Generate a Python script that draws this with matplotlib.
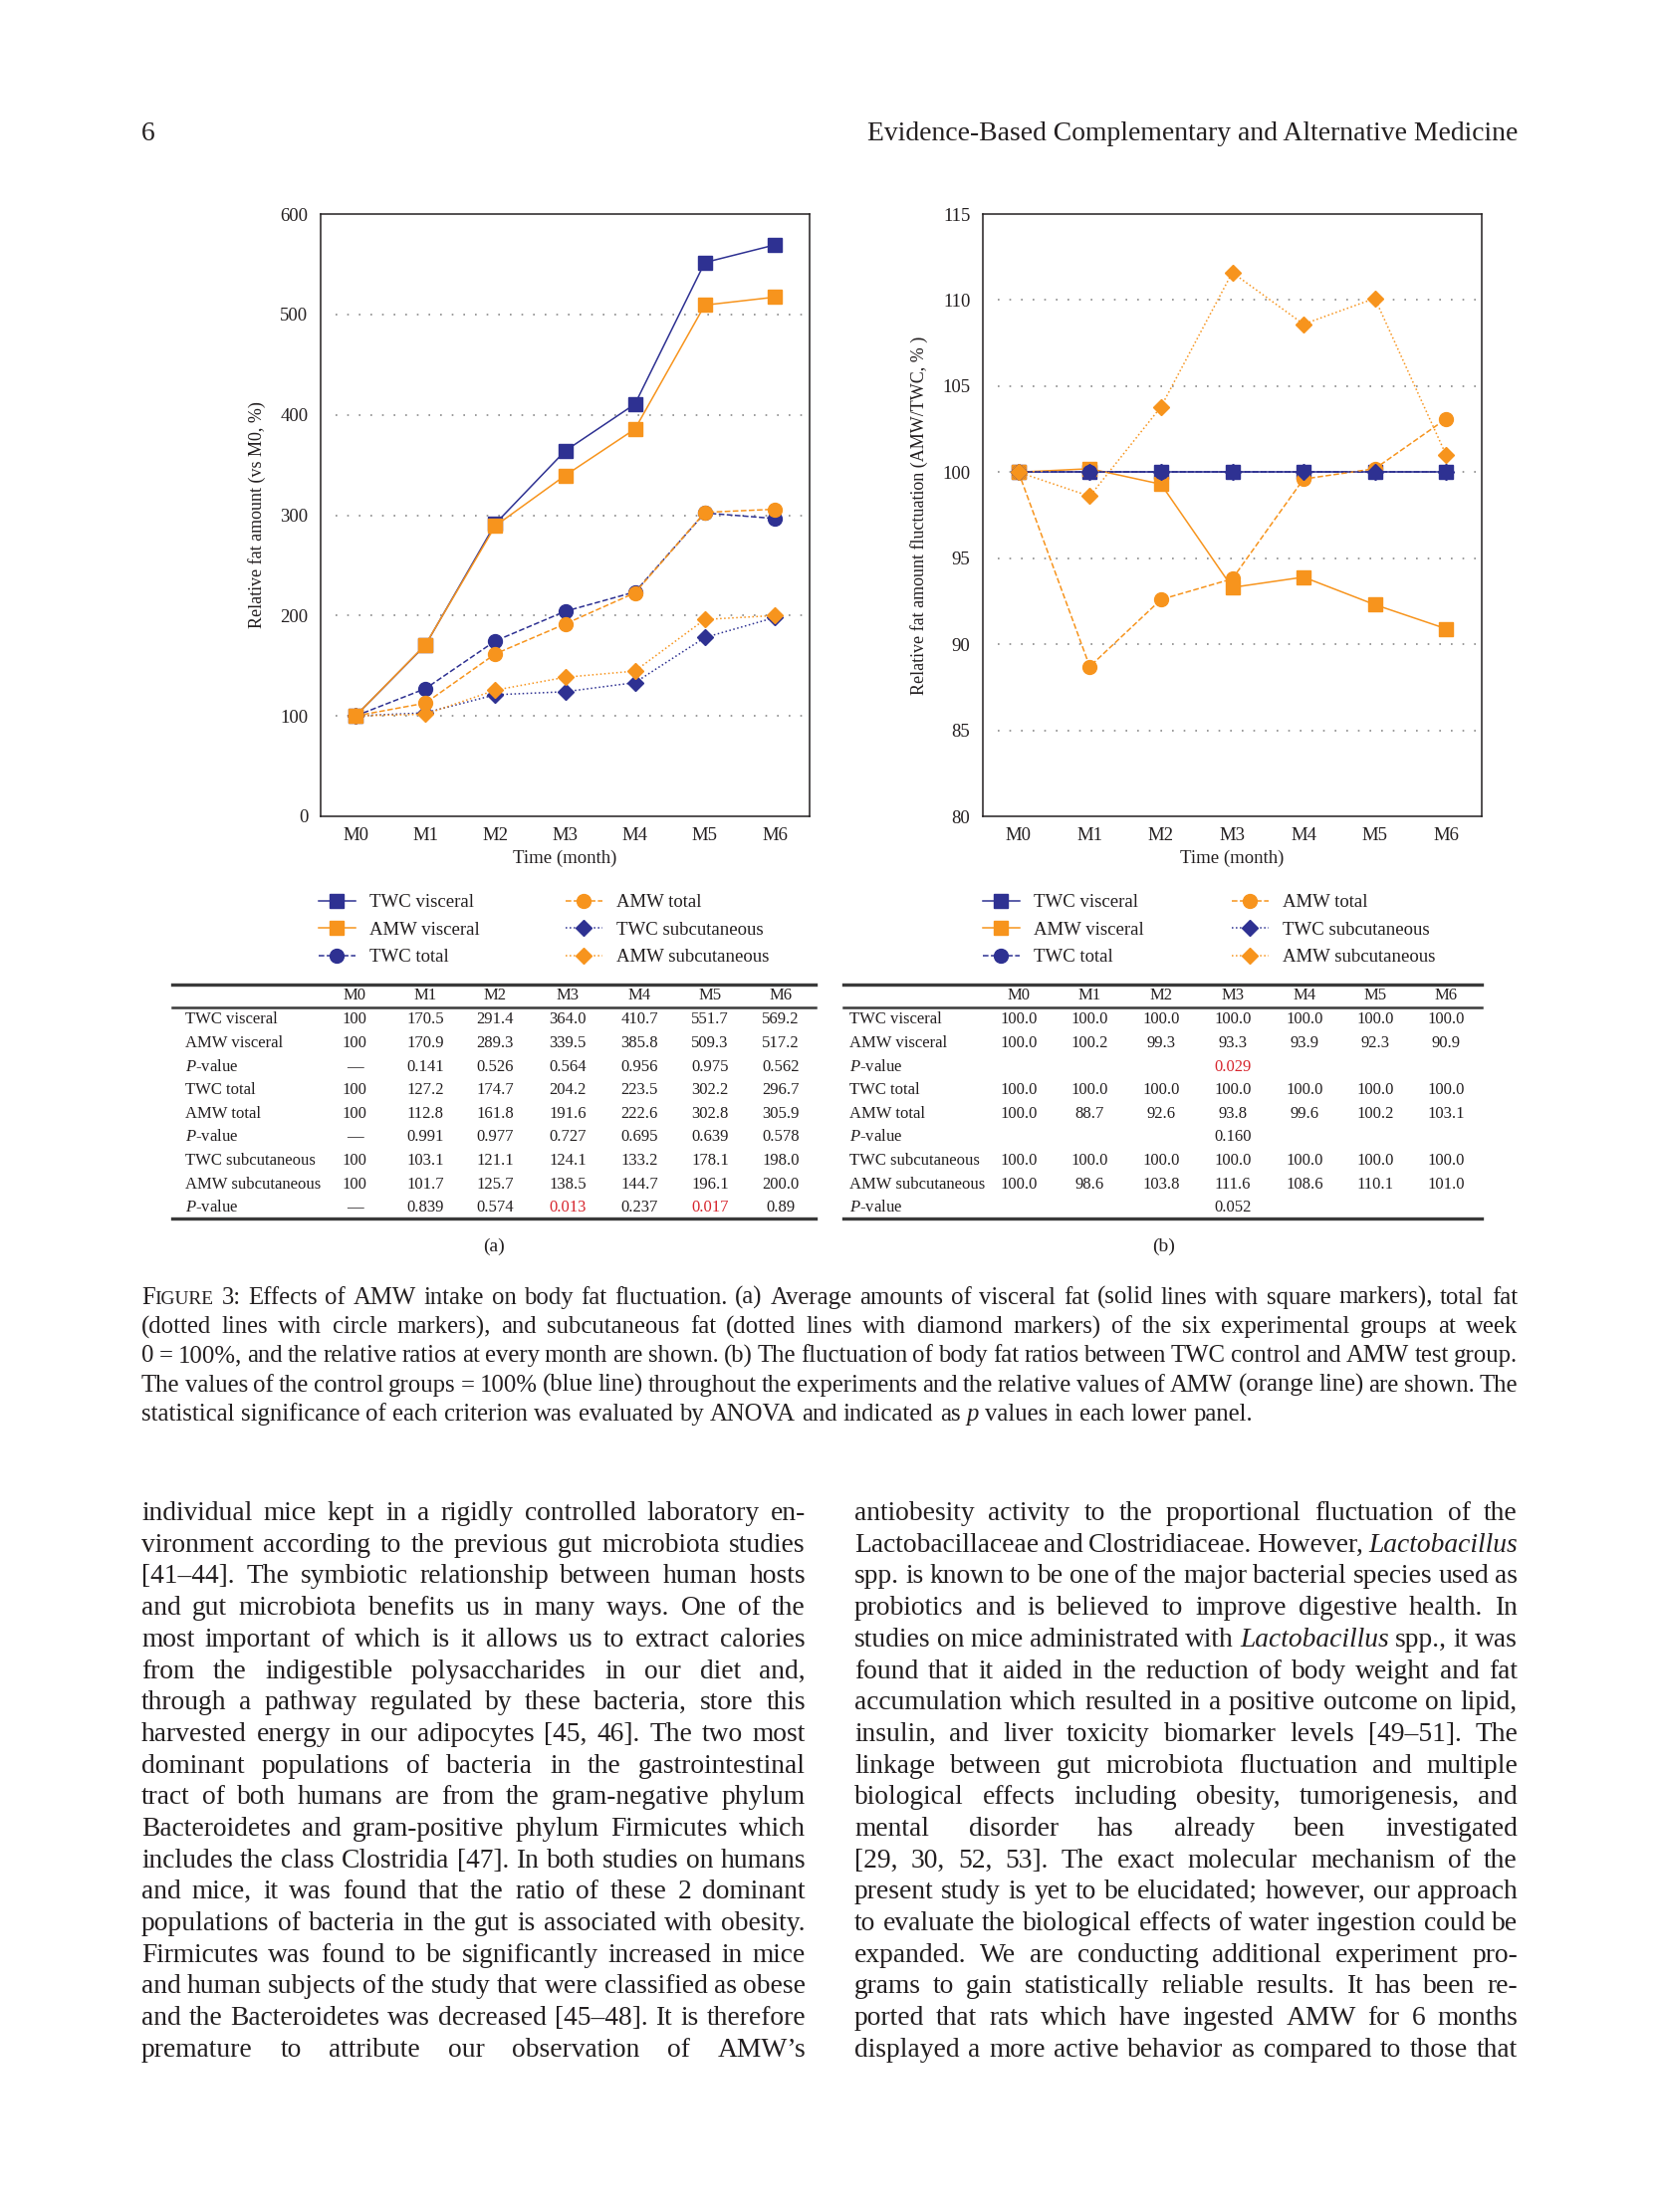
import matplotlib
matplotlib.use('Agg')
import matplotlib.pyplot as plt
from matplotlib.lines import Line2D

W, H = 1666, 2222
SERIF = 'Liberation Serif'
plt.rcParams['font.family'] = [SERIF, 'DejaVu Serif']
plt.rcParams['mathtext.fontset'] = 'custom'
plt.rcParams['mathtext.rm'] = SERIF
plt.rcParams['mathtext.it'] = SERIF + ':italic'

INK = '#231f20'
BLUE = '#2e3192'
ORANGE = '#f7941d'
RED = '#d7262e'

months = ['M0', 'M1', 'M2', 'M3', 'M4', 'M5', 'M6']

# panel (a): relative fat amount vs M0 (%)
twc_visceral = [100, 170.5, 291.4, 364.0, 410.7, 551.7, 569.2]
amw_visceral = [100, 170.9, 289.3, 339.5, 385.8, 509.3, 517.2]
twc_total = [100, 127.2, 174.7, 204.2, 223.5, 302.2, 296.7]
amw_total = [100, 112.8, 161.8, 191.6, 222.6, 302.8, 305.9]
twc_sub = [100, 103.1, 121.1, 124.1, 133.2, 178.1, 198.0]
amw_sub = [100, 101.7, 125.7, 138.5, 144.7, 196.1, 200.0]
p_visceral_a = ['—', '0.141', '0.526', '0.564', '0.956', '0.975', '0.562']
p_total_a = ['—', '0.991', '0.977', '0.727', '0.695', '0.639', '0.578']
p_sub_a = ['—', '0.839', '0.574', '0.013', '0.237', '0.017', '0.89']

# panel (b): AMW/TWC (%)
b_twc_visceral = [100.0, 100.0, 100.0, 100.0, 100.0, 100.0, 100.0]
b_amw_visceral = [100.0, 100.2, 99.3, 93.3, 93.9, 92.3, 90.9]
b_twc_total = [100.0, 100.0, 100.0, 100.0, 100.0, 100.0, 100.0]
b_amw_total = [100.0, 88.7, 92.6, 93.8, 99.6, 100.2, 103.1]
b_twc_sub = [100.0, 100.0, 100.0, 100.0, 100.0, 100.0, 100.0]
b_amw_sub = [100.0, 98.6, 103.8, 111.6, 108.6, 110.1, 101.0]
p_visceral_b = ['', '', '', '0.029', '', '', '']
p_total_b = ['', '', '', '0.160', '', '', '']
p_sub_b = ['', '', '', '0.052', '', '', '']

labels = ['TWC visceral', 'AMW visceral', 'TWC total', 'AMW total',
          'TWC subcutaneous', 'AMW subcutaneous']

header_left = '6'
header_right = 'Evidence-Based Complementary and Alternative Medicine'

caption = [
    '^Figure 3: Effects of AMW intake on body fat fluctuation. (a) Average amounts of visceral fat (solid lines with square markers), total fat',
    '(dotted lines with circle markers), and subcutaneous fat (dotted lines with diamond markers) of the six experimental groups at week',
    '0 = 100%, and the relative ratios at every month are shown. (b) The fluctuation of body fat ratios between TWC control and AMW test group.',
    'The values of the control groups = 100% (blue line) throughout the experiments and the relative values of AMW (orange line) are shown. The',
    'statistical significance of each criterion was evaluated by ANOVA and indicated as _p_ values in each lower panel.',
]

body_left = [
    'individual mice kept in a rigidly controlled laboratory en-',
    'vironment according to the previous gut microbiota studies',
    '[41–44]. The symbiotic relationship between human hosts',
    'and gut microbiota benefits us in many ways. One of the',
    'most important of which is it allows us to extract calories',
    'from the indigestible polysaccharides in our diet and,',
    'through a pathway regulated by these bacteria, store this',
    'harvested energy in our adipocytes [45, 46]. The two most',
    'dominant populations of bacteria in the gastrointestinal',
    'tract of both humans are from the gram-negative phylum',
    'Bacteroidetes and gram-positive phylum Firmicutes which',
    'includes the class Clostridia [47]. In both studies on humans',
    'and mice, it was found that the ratio of these 2 dominant',
    'populations of bacteria in the gut is associated with obesity.',
    'Firmicutes was found to be significantly increased in mice',
    'and human subjects of the study that were classified as obese',
    'and the Bacteroidetes was decreased [45–48]. It is therefore',
    'premature to attribute our observation of AMW’s',
]
body_right = [
    'antiobesity activity to the proportional fluctuation of the',
    'Lactobacillaceae and Clostridiaceae. However, _Lactobacillus_',
    'spp. is known to be one of the major bacterial species used as',
    'probiotics and is believed to improve digestive health. In',
    'studies on mice administrated with _Lactobacillus_ spp., it was',
    'found that it aided in the reduction of body weight and fat',
    'accumulation which resulted in a positive outcome on lipid,',
    'insulin, and liver toxicity biomarker levels [49–51]. The',
    'linkage between gut microbiota fluctuation and multiple',
    'biological effects including obesity, tumorigenesis, and',
    'mental disorder has already been investigated',
    '[29, 30, 52, 53]. The exact molecular mechanism of the',
    'present study is yet to be elucidated; however, our approach',
    'to evaluate the biological effects of water ingestion could be',
    'expanded. We are conducting additional experiment pro-',
    'grams to gain statistically reliable results. It has been re-',
    'ported that rats which have ingested AMW for 6 months',
    'displayed a more active behavior as compared to those that',
]

fig = plt.figure(figsize=(W / 100, H / 100), dpi=100)
renderer = fig.canvas.get_renderer()


def fx(x):
    return x / W


def fy(y):
    return 1 - y / H


def px_axes(x0, y0, x1, y1):
    return fig.add_axes([fx(x0), fy(y1), (x1 - x0) / W, (y1 - y0) / H])


# ---------------- charts ----------------
styles = [('-', 's', 10.5), ('--', 'o', 10), (':', 'D', 8.5)]


def series_props(i):
    ls, mk, ms = styles[i // 2]
    col = BLUE if i % 2 == 0 else ORANGE
    return dict(color=col, ls=ls, marker=mk, ms=ms, lw=1.1, mec=col, mfc=col)


def setup_axes(ax, ylim, yticks, grid, ylabel):
    ax.set_xlim(-0.5, 6.5)
    ax.set_ylim(*ylim)
    ax.set_yticks(yticks)
    ax.set_xticks(range(7))
    ax.set_xticklabels(months)
    ax.tick_params(length=0, labelsize=13.5, colors=INK, pad=8)
    ax.tick_params(axis='y', pad=9)
    for g in grid:
        ax.axhline(g, xmin=0.03, xmax=0.995, color='#8a8a8a', lw=1.2,
                   ls=(0, (1, 6)), zorder=0)
    for s in ax.spines.values():
        s.set_linewidth(1.1)
        s.set_color(INK)
    ax.set_xlabel('Time (month)', fontsize=13.5, color=INK, labelpad=4)
    ax.set_ylabel(ylabel, fontsize=13, color=INK, labelpad=10)


x = range(7)
axa = px_axes(322, 215, 813, 820)
data_a = [twc_visceral, amw_visceral, twc_total, amw_total, twc_sub, amw_sub]
for i in [4, 5, 2, 3, 0, 1]:
    axa.plot(x, data_a[i], **series_props(i))
setup_axes(axa, (0, 600), range(0, 700, 100), range(100, 600, 100),
           'Relative fat amount (vs M0, %)')

axb = px_axes(987, 215, 1488, 820)
data_b = [b_twc_visceral, b_amw_visceral, b_twc_total, b_amw_total, b_twc_sub, b_amw_sub]
for i in range(6):
    axb.plot(x, data_b[i], **series_props(i))
setup_axes(axb, (80, 115), range(80, 120, 5), range(85, 115, 5),
           'Relative fat amount fluctuation (AMW/TWC, % )')

# legends
handles = [Line2D([], [], **series_props(i)) for i in range(6)]
for xcols in [(320, 568), (987, 1237)]:
    for c, xc in enumerate(xcols):
        leg = fig.legend(handles[3 * c:3 * c + 3], labels[3 * c:3 * c + 3],
                         loc='upper left', bbox_to_anchor=(fx(xc), fy(898)),
                         frameon=False, fontsize=13.5, handlelength=1.95,
                         handletextpad=0.75, labelspacing=0.56, borderpad=0,
                         borderaxespad=0)
        for t in leg.get_texts():
            t.set_color(INK)

# ---------------- tables ----------------
row_y = [1024, 1048, 1072, 1095, 1119, 1142, 1166, 1190, 1213]


def draw_table(x0, x1, label_x, col_x, rows):
    for y, lw in [(989, 2.4), (1012, 1.8), (1224, 2.4)]:
        fig.add_artist(Line2D([fx(x0), fx(x1)], [fy(y), fy(y)], color='#3a3a3a', lw=lw))
    for cx, m in zip(col_x, months):
        fig.text(fx(cx), fy(1000), m, fontsize=12, ha='center', va='center', color=INK)
    for y, (lab, vals) in zip(row_y, rows):
        fig.text(fx(label_x), fy(y), lab, fontsize=12, ha='left', va='center', color=INK)
        for cx, v in zip(col_x, vals):
            col = INK
            try:
                if float(v) < 0.05:
                    col = RED
            except ValueError:
                pass
            fig.text(fx(cx), fy(y), v, fontsize=12, ha='center', va='center', color=col)


def fmt_a(vals):
    return ['100' if i == 0 else f'{v:.1f}' for i, v in enumerate(vals)]


def fmt_b(vals):
    return [f'{v:.1f}' for v in vals]


PV = '$P$-value'
rows_a = [(labels[0], fmt_a(twc_visceral)), (labels[1], fmt_a(amw_visceral)), (PV, p_visceral_a),
          (labels[2], fmt_a(twc_total)), (labels[3], fmt_a(amw_total)), (PV, p_total_a),
          (labels[4], fmt_a(twc_sub)), (labels[5], fmt_a(amw_sub)), (PV, p_sub_a)]
rows_b = [(labels[0], fmt_b(b_twc_visceral)), (labels[1], fmt_b(b_amw_visceral)), (PV, p_visceral_b),
          (labels[2], fmt_b(b_twc_total)), (labels[3], fmt_b(b_amw_total)), (PV, p_total_b),
          (labels[4], fmt_b(b_twc_sub)), (labels[5], fmt_b(b_amw_sub)), (PV, p_sub_b)]

draw_table(173, 819, 186, [356, 427, 497, 570, 642, 713, 784], rows_a)
draw_table(847, 1488, 853, [1023, 1094, 1166, 1238, 1310, 1381, 1452], rows_b)

fig.text(fx(496), fy(1252), '(a)', fontsize=14, ha='center', va='center', color=INK)
fig.text(fx(1169), fy(1252), '(b)', fontsize=14, ha='center', va='center', color=INK)


# ---------------- page text ----------------
def seg_list(word):
    if word.startswith('_') and word.endswith('_') and len(word) > 2:
        return [(word[1:-1], 'italic', 1.0)]
    if word.startswith('^'):
        return [(word[1], 'normal', 1.0), (word[2:].upper(), 'normal', 0.78)]
    return [(word, 'normal', 1.0)]


def text_w(s, size, style='normal'):
    t = fig.text(0, 0, s, fontsize=size, style=style)
    w = t.get_window_extent(renderer).width
    t.remove()
    return w


def word_w(segs, size):
    return sum(text_w(s, size * f, st) for s, st, f in segs)


def fit_size(lines, width, space_em):
    # largest font size where every line fits with at least space_em between words
    nat = []
    for line in lines:
        words = [seg_list(w) for w in line.split()]
        nat.append(sum(word_w(ws, 10) for ws in words) + space_em * 10 * 100 / 72 * (len(words) - 1))
    return 10 * width / max(nat)


def draw_block(lines, x0, x1, y0, pitch, size, justify_last=True):
    space = 0.25 * size * 100 / 72
    for i, line in enumerate(lines):
        words = [seg_list(w) for w in line.split()]
        widths = [word_w(ws, size) for ws in words]
        last = i == len(lines) - 1 and not justify_last
        gap = space if last or len(words) < 2 else (x1 - x0 - sum(widths)) / (len(words) - 1)
        xx = x0
        y = y0 + i * pitch
        for ws, w in zip(words, widths):
            xs = xx
            for s, st, f in ws:
                fig.text(fx(xs), fy(y), s, fontsize=size * f, style=st,
                         ha='left', va='baseline', color=INK)
                xs += text_w(s, size * f, st)
            xx += w + gap


hsize = fit_size([header_right], 654, 0.25)
fig.text(fx(142), fy(141), header_left, fontsize=hsize, ha='left', va='baseline', color=INK)
fig.text(fx(1524), fy(141), header_right, fontsize=hsize, ha='right', va='baseline', color=INK)

csize = fit_size(caption[:4], 1382, 0.2)
draw_block(caption, 142, 1524, 1310, 29.2, csize, justify_last=False)

bsize = min(fit_size(body_left, 667, 0.18), fit_size(body_right, 666, 0.18))
draw_block(body_left, 142, 809, 1527, 31.7, bsize)
draw_block(body_right, 858, 1524, 1527, 31.7, bsize)

fig.savefig('out.png', dpi=100, facecolor='white')
